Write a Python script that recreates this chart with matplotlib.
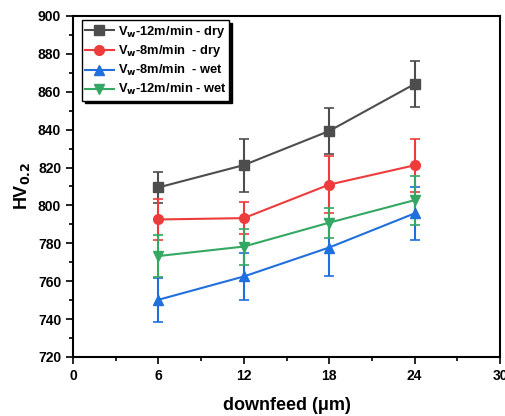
import numpy as np
import matplotlib

matplotlib.use("Agg")
import matplotlib.pyplot as plt
from matplotlib.lines import Line2D
from matplotlib.ticker import MultipleLocator

plt.rcParams["font.family"] = ["Liberation Sans", "DejaVu Sans"]
plt.rcParams["font.weight"] = "bold"

downfeed = [6, 12, 18, 24]

dry_12 = [809.5, 821.3, 839.3, 864.1]
dry_12_err = [8, 14, 12, 12]
dry_8 = [792.6, 793.3, 811.0, 821.2]
dry_8_err = [11, 8.5, 15, 14]
wet_8 = [750.2, 762.5, 777.8, 795.8]
wet_8_err = [11.5, 12.5, 15, 14]
wet_12 = [773.3, 778.3, 790.9, 802.8]
wet_12_err = [11, 9.5, 8, 13]

labels = [
    r"V$_\mathbf{w}$-12m/min - dry",
    r"V$_\mathbf{w}$-8m/min  - dry",
    r"V$_\mathbf{w}$-8m/min  - wet",
    r"V$_\mathbf{w}$-12m/min - wet",
]

series = [
    (dry_12, dry_12_err, "#4d4d4d", "s"),
    (dry_8, dry_8_err, "#ee3b3b", "o"),
    (wet_8, wet_8_err, "#1f6fdc", "^"),
    (wet_12, wet_12_err, "#34a862", "v"),
]

fig = plt.figure(figsize=(5.06, 4.16), dpi=100)
ax = fig.add_axes([73 / 506, 1 - 357 / 416, 427 / 506, 341 / 416])

handles = []
for (vals, err, color, marker), label in zip(series, labels):
    ax.errorbar(downfeed, vals, yerr=err, color=color, marker=marker,
                markersize=7, linewidth=1.5, capsize=3.5, capthick=1.2,
                elinewidth=1.5)
    handles.append(Line2D([], [], color=color, marker=marker, markersize=7,
                          linewidth=1.5, label=label))

ax.set_xlim(0, 30)
ax.set_ylim(720, 900)
ax.xaxis.set_major_locator(MultipleLocator(6))
ax.xaxis.set_minor_locator(MultipleLocator(3))
ax.yaxis.set_major_locator(MultipleLocator(20))
ax.yaxis.set_minor_locator(MultipleLocator(10))
ax.tick_params(which="major", direction="out", length=5, width=1.2, labelsize=10)
ax.tick_params(which="minor", direction="out", length=3, width=1.2)
for s in ax.spines.values():
    s.set_linewidth(1.5)

ax.set_xlabel("downfeed (\u03bcm)", fontsize=13, fontweight="bold", labelpad=10)
ax.set_ylabel(r"HV$_\mathbf{0.2}$", fontsize=13, fontweight="bold", labelpad=4)

leg = ax.legend(handles=handles, loc="upper left", bbox_to_anchor=(0.015, 0.995),
                fancybox=False, shadow={"color": "black", "alpha": 1},
                edgecolor="black", framealpha=1,
                fontsize=9.3, handlelength=2.2, borderpad=0.25,
                labelspacing=0.3, handletextpad=0.3, borderaxespad=0.2)
leg.get_frame().set_linewidth(1.0)

fig.savefig("out.png", dpi=100)
plt.close(fig)
